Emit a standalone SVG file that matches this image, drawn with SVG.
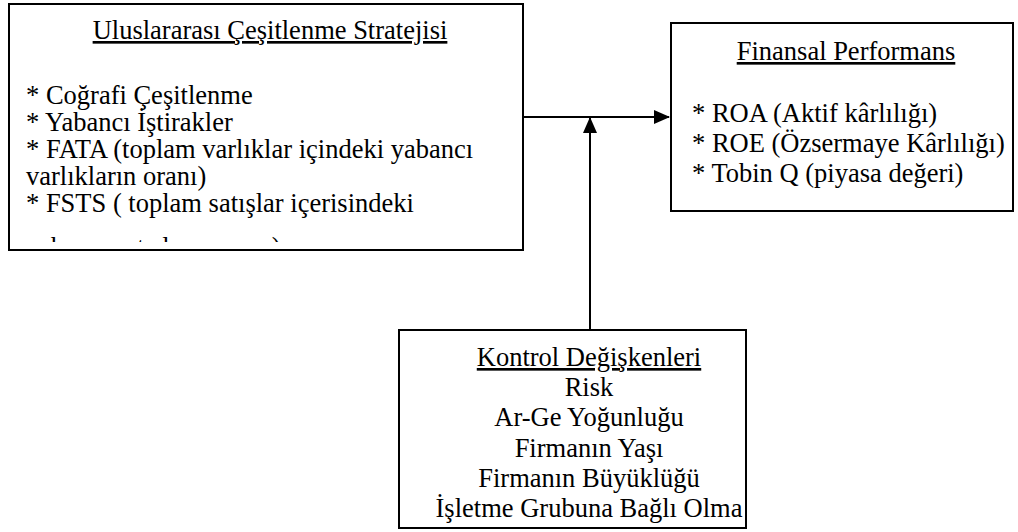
<svg xmlns="http://www.w3.org/2000/svg" width="1018" height="532" viewBox="0 0 1018 532">
<style>
.box{fill:#fff;stroke:#000;stroke-width:2}
.t{font-family:"Liberation Serif","Times New Roman",serif;font-size:26.5px;fill:#000}
.u{text-decoration:underline}
.c{text-anchor:middle}
.conn{stroke:#000;stroke-width:2;fill:none}
</style>
<defs>
<marker id="ah" markerWidth="16" markerHeight="14" refX="15" refY="7" orient="auto" markerUnits="userSpaceOnUse">
<path d="M0,0 L16,7 L0,14 Z" fill="#000"/>
</marker>
<clipPath id="clipL"><rect x="10" y="5" width="512" height="237"/></clipPath>
</defs>
<rect width="1018" height="532" fill="#fff"/>
<g id="node-strategy">
<rect class="box" x="9" y="4" width="514" height="246"/>
<g clip-path="url(#clipL)">
<text class="t c u" x="270" y="39">Uluslararası Çeşitlenme Stratejisi</text>
<text class="t" x="26" y="104">* Coğrafi Çeşitlenme</text>
<text class="t" x="26" y="131">* Yabancı İştirakler</text>
<text class="t" x="26" y="158">* FATA (toplam varlıklar içindeki yabancı</text>
<text class="t" x="26" y="185">varlıkların oranı)</text>
<text class="t" x="26" y="212">* FSTS ( toplam satışlar içerisindeki</text>
<text class="t" x="26" y="256">yabancı satışların oranı)</text>
</g>
</g>
<g id="node-performance">
<rect class="box" x="671" y="23" width="342" height="188"/>
<text class="t c u" x="846" y="60">Finansal Performans</text>
<text class="t" x="692" y="122">* ROA (Aktif kârlılığı)</text>
<text class="t" x="692" y="152">* ROE (Özsermaye Kârlılığı)</text>
<text class="t" x="692" y="182">* Tobin Q (piyasa değeri)</text>
</g>
<g id="node-control">
<rect class="box" x="399" y="330" width="347" height="198"/>
<text class="t c u" x="589" y="366">Kontrol Değişkenleri</text>
<text class="t c" x="589" y="396">Risk</text>
<text class="t c" x="589" y="426">Ar-Ge Yoğunluğu</text>
<text class="t c" x="589" y="457">Firmanın Yaşı</text>
<text class="t c" x="589" y="487">Firmanın Büyüklüğü</text>
<text class="t c" x="589" y="517">İşletme Grubuna Bağlı Olma</text>
</g>
<g id="connectors">
<line class="conn" x1="523" y1="117" x2="669" y2="117" marker-end="url(#ah)"/>
<line class="conn" x1="590" y1="330" x2="590" y2="118" marker-end="url(#ah)"/>
</g>
</svg>
